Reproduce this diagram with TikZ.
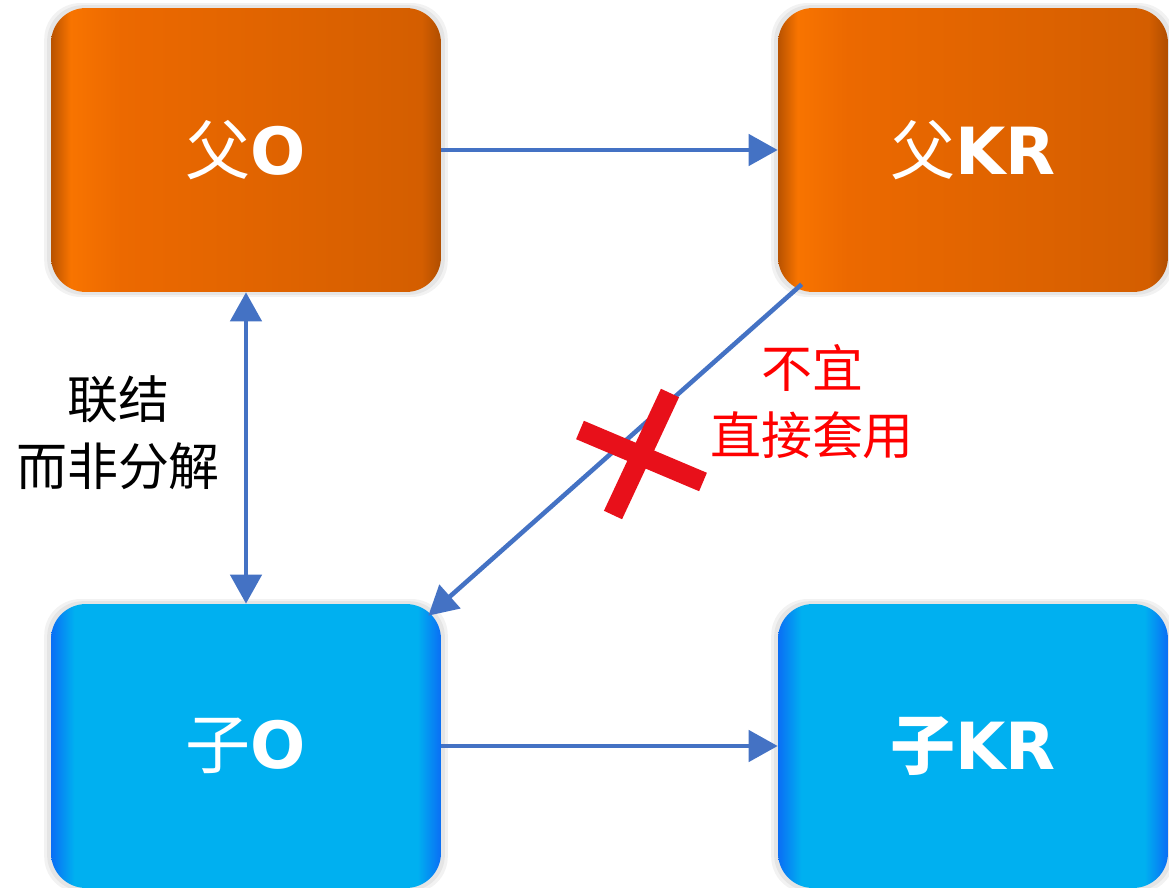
\documentclass[tikz,border=0pt]{standalone}
\usepackage{fontspec}
\usetikzlibrary{arrows.meta,shadows,calc}
\newfontfamily\cjk{Noto Sans CJK SC}
\newfontfamily\latb{DejaVu Sans Bold}
\definecolor{arrowblue}{HTML}{4472C4}
\definecolor{crossred}{HTML}{E8101A}
\definecolor{orA}{HTML}{B85200}
\definecolor{orB}{HTML}{F87400}
\definecolor{orC}{HTML}{EC6900}
\definecolor{orD}{HTML}{D45E00}
\definecolor{orE}{HTML}{B04E00}
\definecolor{blA}{HTML}{0A6EF5}
\definecolor{blB}{HTML}{00B0F0}
\pgfdeclarehorizontalshading{orangeshade}{100bp}{color(0bp)=(orA); color(25bp)=(orA); color(27.5bp)=(orB); color(34bp)=(orC); color(72.5bp)=(orD); color(75bp)=(orE); color(100bp)=(orE)}
\pgfdeclarehorizontalshading{blueshade}{100bp}{color(0bp)=(blA); color(25bp)=(blA); color(28bp)=(blB); color(72bp)=(blB); color(75bp)=(blA); color(100bp)=(blA)}
\tikzset{
  box/.style={rectangle, rounded corners=0.7cm, minimum width=7.8cm, minimum height=5.68cm,
    inner sep=0pt, text=white, font=\fontsize{37}{40}\selectfont,
    general shadow={fill=black, opacity=0.05, shadow scale=1.035},
    general shadow={fill=black, opacity=0.05, shadow scale=1.02}},
  parent/.style={box, shade, shading=orangeshade},
  child/.style={box, shade, shading=blueshade},
  link/.style={arrowblue, line width=2.6pt, -{Triangle[length=0.58cm,width=0.62cm]}},
  dlink/.style={link, {Triangle[length=0.58cm,width=0.62cm]}-{Triangle[length=0.58cm,width=0.62cm]}},
  note/.style={align=center, font=\cjk\fontsize{29}{38}\selectfont}
}
\begin{document}
\begin{tikzpicture}[x=0.02cm,y=-0.02cm]
\useasboundingbox (0,0) rectangle (1169,888);
\fill[white] (0,0) rectangle (1169,888);
\node[parent] (fo) at (246,150) {\cjk 父\latb O};
\node[parent] (fkr) at (973,150) {\cjk 父\latb KR};
\node[child] (so) at (246,746) {\cjk 子\latb O};
\node[child] (skr) at (973,746) {\cjk\bfseries 子\latb KR};
\draw[link] (fo.east) -- (fkr.west);
\draw[link] (so.east) -- (skr.west);
\draw[dlink] (fo.south) -- (so.north);
\draw[link] ($(fkr.south west)+(24,-8)$) -- ($(so.north east)+(-13,12)$);
\node[note] (lbl) at (118,433) {联结\\而非分解};
\node[note, text=red] (warn) at (812,402) {不宜\\直接套用};
\draw[crossred, line width=0.4cm] (580,430) -- (703,482);
\draw[crossred, line width=0.4cm] (670,393) -- (613,515);
\end{tikzpicture}
\end{document}
